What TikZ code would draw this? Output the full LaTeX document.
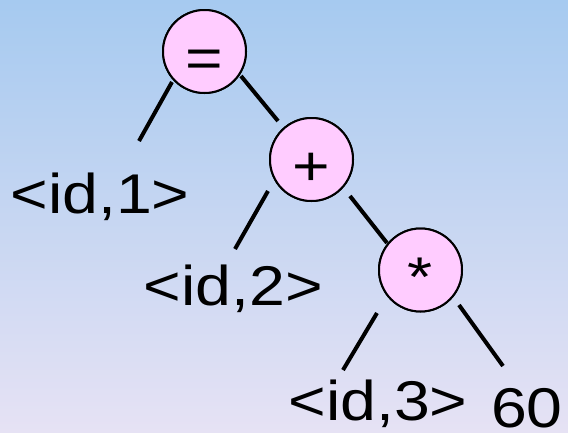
\documentclass[tikz,border=0pt]{standalone}
\usepackage{fontspec}
\setmainfont{Liberation Sans}
\definecolor{bgtop}{RGB}{166,202,240}
\definecolor{bgbot}{RGB}{230,226,244}
\definecolor{opfill}{RGB}{255,204,255}
\tikzset{
  opnode/.style={circle, draw=black, line width=2pt, fill=opfill, minimum size=83pt,
    inner sep=0pt, text height=52pt, text depth=0pt,
    font=\fontsize{56}{60}\selectfont},
  leaf/.style={inner sep=0pt, anchor=base, font=\fontsize{56}{60}\selectfont},
  edge/.style={line width=4pt, draw=black}
}
\newcommand{\wide}[1]{\scalebox{1.15}[1]{#1}}
\begin{document}
\begin{tikzpicture}[x=1pt, y=-1pt]
  \shade[top color=bgtop, bottom color=bgbot] (0,0) rectangle (568,432);
  \useasboundingbox (0,0) rectangle (568,432);
  % operator nodes
  \node[opnode] (eq)   at (204.5,51.5) {\wide{=}};
  \node[opnode] (plus) at (311.5,159.5) {\wide{+}};
  \node[opnode] (star) at (420.5,270) {\wide{*}};
  % leaves
  \node[leaf] (id1) at (100,213) {\wide{<id,1>}};
  \node[leaf] (id2) at (233.5,305) {\wide{<id,2>}};
  \node[leaf] (id3) at (378,420) {\wide{<id,3>}};
  \node[leaf] (n60) at (527,427) {\wide{60}};
  % connector end points
  \coordinate (a1) at (172,82);   \coordinate (b1) at (139,141);
  \coordinate (a2) at (241,76);   \coordinate (b2) at (278,121);
  \coordinate (a3) at (268,191);  \coordinate (b3) at (235,249);
  \coordinate (a4) at (350,196);  \coordinate (b4) at (387,243);
  \coordinate (a5) at (377,313);  \coordinate (b5) at (343,370);
  \coordinate (a6) at (459,305);  \coordinate (b6) at (503,366);
  \draw[edge] (a1) -- (b1);
  \draw[edge] (a2) -- (b2);
  \draw[edge] (a3) -- (b3);
  \draw[edge] (a4) -- (b4);
  \draw[edge] (a5) -- (b5);
  \draw[edge] (a6) -- (b6);
  % redraw circles above connector ends
  \node[opnode] at (eq) {\wide{=}};
  \node[opnode] at (plus) {\wide{+}};
  \node[opnode] at (star) {\wide{*}};
\end{tikzpicture}
\end{document}
